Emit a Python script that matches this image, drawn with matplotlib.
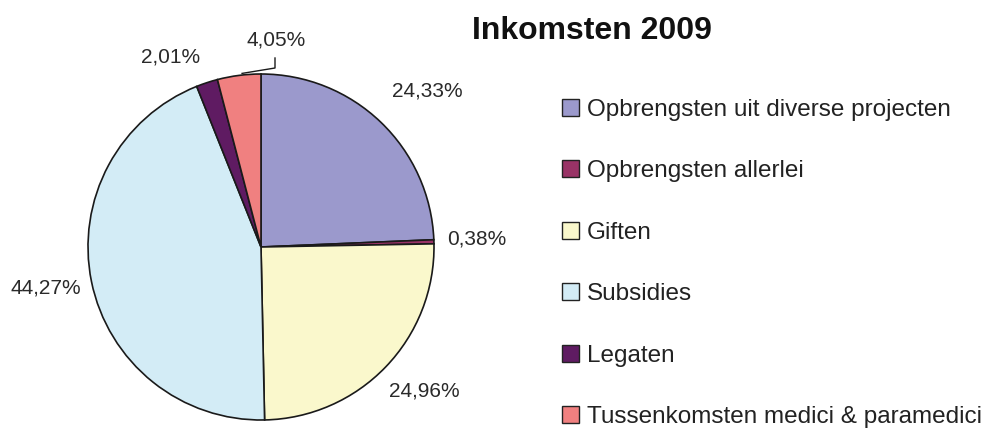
import numpy as np
import matplotlib
matplotlib.use('Agg')
from matplotlib import pyplot as plt
from matplotlib.patches import Patch

plt.rcParams['font.family'] = ['Liberation Sans', 'DejaVu Sans']

categories = [
    'Opbrengsten uit diverse projecten',
    'Opbrengsten allerlei',
    'Giften',
    'Subsidies',
    'Legaten',
    'Tussenkomsten medici & paramedici',
]
shares = [24.33, 0.38, 24.96, 44.27, 2.01, 4.05]
colors = ['#9b99cc', '#993366', '#faf8cc', '#d3ecf6', '#5f1b62', '#f08080']
title = 'Inkomsten 2009'

W, H = 998, 430
fig = plt.figure(figsize=(W / 100, H / 100), dpi=100)
ax = fig.add_axes([0, 0, 1, 1])

cx, cy, r = 261, H - 247, 173
labels = [f'{v:.2f}%'.replace('.', ',') for v in shares]
wedges, texts = ax.pie(
    shares, colors=colors, startangle=90, counterclock=False,
    center=(cx, cy), radius=r, labels=labels, labeldistance=1.25,
    wedgeprops=dict(edgecolor='#1a1a1a', linewidth=1.2),
    textprops=dict(fontsize=15, color='#2a2a2a'),
    frame=True,
)
ax.set_xlim(0, W)
ax.set_ylim(0, H)
ax.set_aspect('equal')
ax.axis('off')

# small nudges (pixels, x right / y up) to mimic the spreadsheet label placement
nudges = [(17, 0), (0, 1), (7, 6), (-3, 2), (-23, -15), (0, 0)]
for t, (dx, dy) in zip(texts, nudges):
    x, y = t.get_position()
    t.set_position((x + dx, y + dy))
    t.set_ha('center')

# smallest outer slice label sits above the pie with a leader line
w = wedges[-1]
mid = np.deg2rad((w.theta1 + w.theta2) / 2)
ex, ey = cx + r * np.cos(mid), cy + r * np.sin(mid)
lx, ly = cx + 15, cy + 207
texts[-1].set_position((lx, ly))
ax.plot([lx - 1, lx - 1, ex + 3], [ly - 18, ly - 28, ey + 2], color='#1a1a1a', lw=1.0)

fig.text(592 / W, 1 - 31 / H, title, fontsize=23, fontweight='bold',
         ha='center', va='center', color='#111111')

handles = [Patch(facecolor=c, edgecolor='#222222', linewidth=1.0) for c in colors]
fig.legend(handles, categories, loc='upper left', bbox_to_anchor=(562 / W, 1 - 99 / H),
           frameon=False, fontsize=17.5, handlelength=0.7, handleheight=0.7,
           handletextpad=0.33, labelspacing=1.62, borderpad=0, borderaxespad=0,
           labelcolor='#222222')

fig.savefig('out.png', dpi=100)
